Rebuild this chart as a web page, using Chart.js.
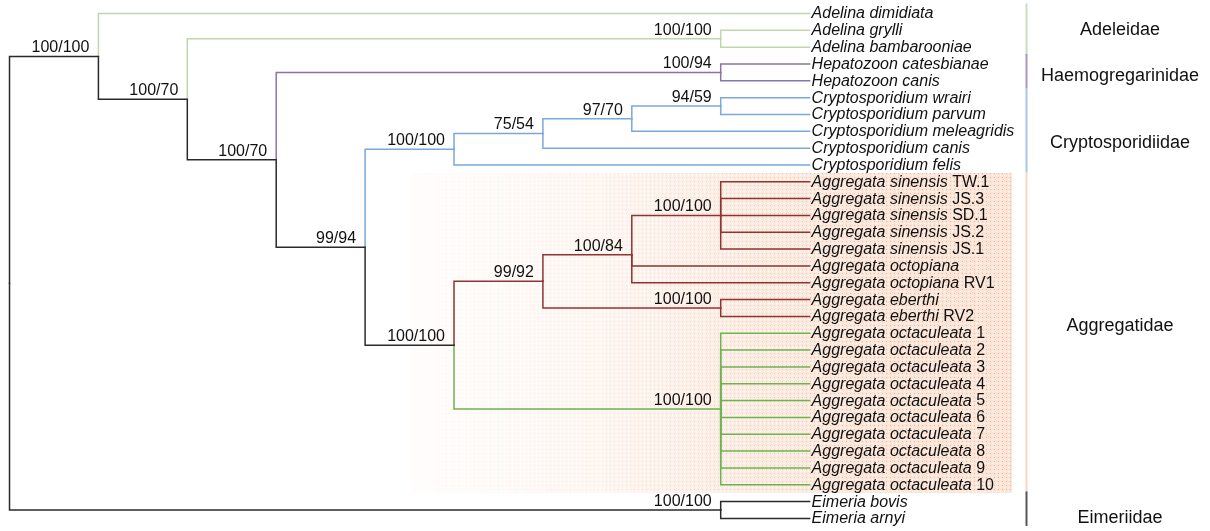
<!DOCTYPE html>
<html>
<head>
<meta charset="utf-8">
<script src="https://cdn.jsdelivr.net/npm/chart.js@4"></script>
<style>
html,body{margin:0;padding:0;background:#fff;}
#c{display:block;}
</style>
</head>
<body>
<canvas id="c" width="1210" height="531"></canvas>
<script>
// ---------- DATA ----------
const leafNames = [
  "Adelina dimidiata","Adelina grylli","Adelina bambarooniae",
  "Hepatozoon catesbianae","Hepatozoon canis",
  "Cryptosporidium wrairi","Cryptosporidium parvum","Cryptosporidium meleagridis","Cryptosporidium canis","Cryptosporidium felis",
  "Aggregata sinensis","Aggregata sinensis","Aggregata sinensis","Aggregata sinensis","Aggregata sinensis",
  "Aggregata octopiana","Aggregata octopiana","Aggregata eberthi","Aggregata eberthi",
  "Aggregata octaculeata","Aggregata octaculeata","Aggregata octaculeata","Aggregata octaculeata","Aggregata octaculeata",
  "Aggregata octaculeata","Aggregata octaculeata","Aggregata octaculeata","Aggregata octaculeata","Aggregata octaculeata",
  "Eimeria bovis","Eimeria arnyi"
];
const leafSuffix = [
  "","","","","","","","","","",
  "TW.1","JS.3","SD.1","JS.2","JS.1",
  "","RV1","","RV2",
  "1","2","3","4","5","6","7","8","9","10",
  "",""
];
const nodeIds      = ["root","A","B","Ad","C","Hp","D","E","F","G","H","I","J","K","L","M","N","Em"];
const nodeChildren = [
  ["A","Em"],
  [0,"B"],
  ["Ad","C"],
  [1,2],
  ["Hp","D"],
  [3,4],
  ["E","I"],
  ["F",9],
  ["G",8],
  ["H",7],
  [5,6],
  ["J","N"],
  ["K","M"],
  ["L",15,16],
  [10,11,12,13,14],
  [17,18],
  [19,20,21,22,23,24,25,26,27,28],
  [29,30]
];
const nodeSupport = ["","100/100","100/70","100/100","100/70","100/94","99/94","100/100","75/54","97/70","94/59","100/100","99/92","100/84","100/100","100/100","100/100","100/100"];
const familyNames = ["Adeleidae","Haemogregarinidae","Cryptosporidiidae","Aggregatidae","Eimeriidae"];
const familyFirstLeaf = [0,3,5,10,29];
const familyLastLeaf  = [2,4,9,28,30];

// ---------- STYLE ----------
const C_BLACK="#2a2a2a", C_ADEL="#c3d5ae", C_HEP="#8b73aa", C_CRY="#7ba8dc", C_AGG="#8e3434", C_OCT="#6cb450";
const cladeColorRoots = {"L0":C_ADEL,"Ad":C_ADEL,"Hp":C_HEP,"E":C_CRY,"J":C_AGG,"N":C_OCT};
const familyColors = ["#cfdcc0","#a997c2","#a9c6e6","#f6d8c4","#555555"];
const familyLabelAt = [1.0,3.7,7.7,18.6,30.0]; // leaf-index units for the label centre
const FONT = "'Liberation Sans', Arial, Helvetica, sans-serif";

// ---------- TREE LAYOUT (from structure) ----------
const key = c => (typeof c === "number") ? "L"+c : c;
const childMap = {}; nodeIds.forEach((id,i)=>childMap[id]=nodeChildren[i].map(key));
const height = {}, ypos = {};
function walk(k){
  if(k[0]==="L" && !childMap[k]){ height[k]=0; ypos[k]=+k.slice(1); return; }
  const ch = childMap[k]; ch.forEach(walk);
  height[k] = 1 + Math.max(...ch.map(c=>height[c]));
  ypos[k] = ch.reduce((s,c)=>s+ypos[c],0)/ch.length;
}
walk("root");
const maxH = height["root"];
const xpos = {}; Object.keys(height).forEach(k=>xpos[k]=maxH-height[k]);
const colorOf = {};
function paint(k,col){ if(cladeColorRoots[k]) col=cladeColorRoots[k]; colorOf[k]=col; (childMap[k]||[]).forEach(c=>paint(c,col)); }
paint("root",C_BLACK);

const datasets = [];
Object.keys(childMap).forEach(p=>{
  childMap[p].forEach(c=>{
    datasets.push({
      data:[{x:xpos[p],y:ypos[p]},{x:xpos[p],y:ypos[c]},{x:xpos[c],y:ypos[c]}],
      borderColor: colorOf[c], borderWidth: 1.5, pointRadius:0, showLine:true, fill:false, tension:0,
      borderCapStyle:"square", borderJoinStyle:"miter"
    });
  });
});

// ---------- PLUGINS ----------
const shadePlugin = {
  id:"shade",
  beforeDatasetsDraw(chart){
    const {ctx, scales:{x,y}} = chart;
    const x0 = Math.round(x.getPixelForValue(4.5)), x1 = 1012;
    const y0 = Math.round(y.getPixelForValue(familyFirstLeaf[3]-0.5)), y1 = Math.round(y.getPixelForValue(familyLastLeaf[3]+0.5));
    const w = x1-x0, h = y1-y0;
    // offscreen: dotted texture + smooth tint, faded out to the left
    const off = document.createElement("canvas"); off.width=w; off.height=h;
    const oc = off.getContext("2d");
    const t = document.createElement("canvas"); t.width=4; t.height=4;
    const tc = t.getContext("2d");
    tc.fillStyle="rgba(244,196,166,0.55)"; tc.fillRect(0,0,4,4);
    tc.fillStyle="rgba(236,150,110,0.9)"; tc.fillRect(0,0,1,1);
    tc.fillStyle="rgba(255,255,255,0.9)"; tc.fillRect(2,2,1,1);
    oc.fillStyle = oc.createPattern(t,"repeat");
    oc.fillRect(0,0,w,h);
    oc.globalCompositeOperation="destination-in";
    const g = oc.createLinearGradient(0,0,w,0);
    g.addColorStop(0,"rgba(0,0,0,0.05)");
    g.addColorStop(0.3,"rgba(0,0,0,0.25)");
    g.addColorStop(0.55,"rgba(0,0,0,0.55)");
    g.addColorStop(0.75,"rgba(0,0,0,0.75)");
    g.addColorStop(1,"rgba(0,0,0,0.8)");
    oc.fillStyle=g; oc.fillRect(0,0,w,h);
    ctx.save();
    ctx.drawImage(off,x0,y0);
    ctx.restore();
  }
};
const textPlugin = {
  id:"texts",
  afterDatasetsDraw(chart){
    const {ctx, scales:{x,y}} = chart;
    ctx.save();
    ctx.fillStyle="#111";
    // leaf labels
    ctx.textBaseline="middle"; ctx.textAlign="left";
    leafNames.forEach((n,i)=>{
      const px = x.getPixelForValue(maxH)+2, py = y.getPixelForValue(i)+0.5;
      ctx.font = "italic 16px "+FONT;
      ctx.fillText(n, px, py);
      if(leafSuffix[i]){
        const w = ctx.measureText(n+" ").width;
        ctx.font = "16px "+FONT;
        ctx.fillText(leafSuffix[i], px+w, py);
      }
    });
    // support values
    ctx.font = "16px "+FONT; ctx.textAlign="right"; ctx.textBaseline="alphabetic";
    nodeIds.forEach((id,i)=>{
      if(!nodeSupport[i]) return;
      ctx.fillText(nodeSupport[i], x.getPixelForValue(xpos[id])-9, y.getPixelForValue(ypos[id])-4);
    });
    // family bars and names
    const bx = 1026.5;
    familyNames.forEach((f,i)=>{
      ctx.strokeStyle = familyColors[i]; ctx.lineWidth = 2;
      ctx.beginPath();
      ctx.moveTo(bx, y.getPixelForValue(familyFirstLeaf[i]-0.6));
      ctx.lineTo(bx, Math.min(531, y.getPixelForValue(familyLastLeaf[i]+0.45)));
      ctx.stroke();
      ctx.font = "18px "+FONT; ctx.textAlign="center"; ctx.textBaseline="middle"; ctx.fillStyle="#111";
      ctx.fillText(f, 1120, y.getPixelForValue(familyLabelAt[i]));
    });
    ctx.restore();
  }
};

new Chart(document.getElementById("c"), {
  type:"scatter",
  data:{datasets},
  options:{
    responsive:false, animation:false, events:[],
    layout:{padding:0},
    plugins:{legend:{display:false}, tooltip:{enabled:false}},
    scales:{
      x:{type:"linear", display:false, min:-0.107, max:13.504},
      y:{type:"linear", display:false, reverse:true, min:-0.802, max:30.75}
    }
  },
  plugins:[shadePlugin,textPlugin]
});
</script>
</body>
</html>
